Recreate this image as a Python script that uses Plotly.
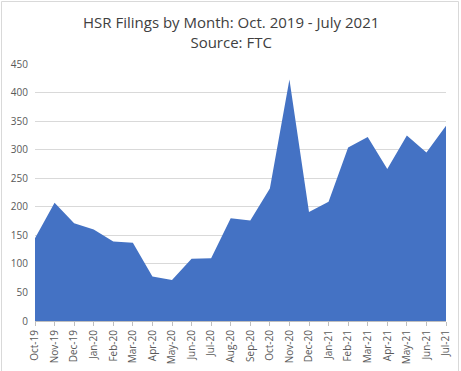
import plotly.graph_objects as go

months = ["Oct-19", "Nov-19", "Dec-19", "Jan-20", "Feb-20", "Mar-20", "Apr-20", "May-20",
          "Jun-20", "Jul-20", "Aug-20", "Sep-20", "Oct-20", "Nov-20", "Dec-20", "Jan-21",
          "Feb-21", "Mar-21", "Apr-21", "May-21", "Jun-21", "Jul-21"]
filings = [145, 207, 171, 160, 139, 137, 78, 72, 109, 110, 180, 176, 232, 423, 191, 209,
           304, 322, 266, 325, 295, 342]
y_ticks = [0, 50, 100, 150, 200, 250, 300, 350, 400, 450]

W, H = 461, 371
ml, mr, mt, mb = 35, 15, 64, 50
pw, ph = W - ml - mr, H - mt - mb

fig = go.Figure()
fig.add_trace(go.Scatter(
    x=months, y=filings, mode="lines", fill="tozeroy",
    line=dict(color="#4472C4", width=0), fillcolor="#4472C4",
    hoverinfo="x+y", showlegend=False,
))

font_family = "Open Sans, Liberation Sans, sans-serif"
fig.update_layout(
    width=W, height=H, autosize=False,
    margin=dict(l=ml, r=mr, t=mt, b=mb, autoexpand=False),
    paper_bgcolor="white", plot_bgcolor="white",
    xaxis=dict(
        type="category", range=[0, len(months) - 1], automargin=False,
        tickangle=-90, tickfont=dict(family=font_family, size=10, color="#595959"),
        showgrid=False, showline=True, linecolor="#BFBFBF", linewidth=1,
        ticks="outside", ticklen=4, tickcolor="#BFBFBF",
        fixedrange=True,
    ),
    yaxis=dict(
        range=[0, 450], tickvals=y_ticks, automargin=False,
        tickfont=dict(family=font_family, size=10, color="#595959"),
        showgrid=True, gridcolor="#D9D9D9", gridwidth=1,
        zeroline=False, showline=False, ticks="", ticklabelstandoff=6,
        fixedrange=True,
    ),
    annotations=[dict(
        text="HSR Filings by Month: Oct. 2019 - July 2021<br>Source: FTC",
        xref="paper", yref="paper", x=(W / 2 - ml) / pw, y=1 + (mt - 10) / ph,
        xanchor="center", yanchor="top", showarrow=False,
        font=dict(family=font_family, size=15, color="#404040"),
    )],
    shapes=[dict(
        type="rect", xref="paper", yref="paper",
        x0=(1.5 - ml) / pw, x1=(W - 2.5 - ml) / pw,
        y0=(mb - (H - 2.5)) / ph, y1=(H - 1.5 - mb) / ph,
        line=dict(color="#D9D9D9", width=1), fillcolor="rgba(0,0,0,0)", layer="below",
    )],
)

fig.write_html(
    "out.html",
    config={"displayModeBar": False},
    post_script="document.body.style.margin='0';document.body.style.overflow='hidden';",
)
